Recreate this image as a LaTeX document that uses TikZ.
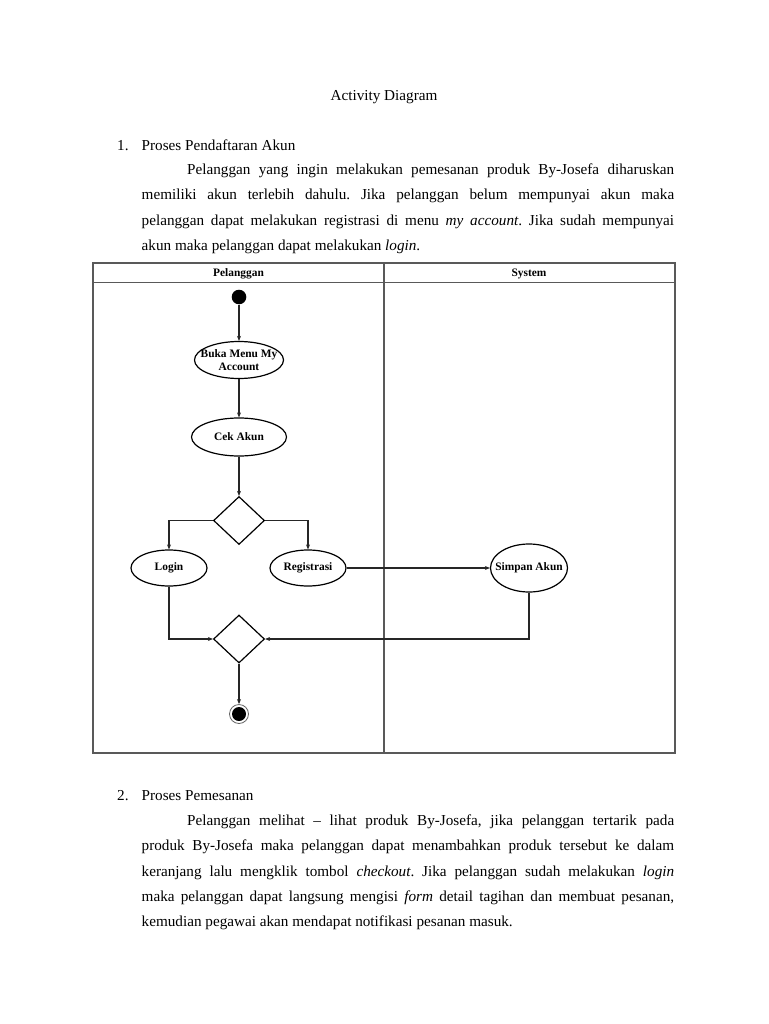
\documentclass[tikz,border=0pt]{standalone}
\usepackage{fontspec}
\setmainfont{Liberation Serif}
\usetikzlibrary{shapes.geometric,arrows.meta}

\begin{document}
\begin{tikzpicture}[x=1pt,y=-1pt,
    body/.style={inner sep=0pt,anchor=base west,font=\fontsize{15.2}{25.4}\selectfont\frenchspacing},
    lane/.style={draw=black!65,line width=1.1pt},
    acttext/.style={font=\bfseries\fontsize{11.4}{12.6}\selectfont,align=center,inner sep=0pt},
    act/.style={draw,ellipse,line width=1.2pt,inner sep=0pt},
    decision/.style={draw,diamond,line width=1.2pt,inner sep=0pt,minimum width=51pt,minimum height=48pt},
    flow/.style={draw=black!85,line width=1.1pt,-{Stealth[length=5pt,width=4pt]}}]
    \useasboundingbox[fill=white] (0,0) rectangle (768,1024);

    \node[body,anchor=base] (title) at (384,101) {Activity Diagram};
    \node[body] (num1) at (117,151) {1.};
    \node[body] (head1) at (141.5,151) {Proses Pendaftaran Akun};
    \node[body] (para1) at (141.5,174.4) {\parbox[t]{532.5pt}{\tolerance=10000\hyphenpenalty=10000
      \hspace*{45.5pt}Pelanggan yang ingin melakukan pemesanan produk By-Josefa diharuskan\linebreak
      memiliki akun terlebih dahulu. Jika pelanggan belum mempunyai akun maka\linebreak
      pelanggan dapat melakukan registrasi di menu \textit{my account}. Jika sudah mempunyai\linebreak
      akun maka pelanggan dapat melakukan \textit{login}.}};

    % swimlanes
    \draw[lane] (93,263) rectangle (675,753);
    \draw[lane] (93,282.5) -- (675,282.5);
    \draw[lane,line width=1.7pt] (384,263) -- (384,753);
    \node[acttext] (pelanggan) at (238.5,273.5) {Pelanggan};
    \node[acttext] (system) at (529,273.5) {System};

    \node[circle,fill,inner sep=0pt,minimum size=14.6pt] (start) at (239,297) {};
    \node[act,minimum width=89pt,minimum height=37pt,label={[acttext]center:{Buka Menu My\\Account}}] (buka) at (239,360) {};
    \node[act,minimum width=95pt,minimum height=38pt,label={[acttext]center:Cek Akun}] (cek) at (239,437) {};
    \node[decision] (dec) at (239,520.5) {};
    \node[act,minimum width=76pt,minimum height=36pt,label={[acttext]center:Login}] (login) at (169,568) {};
    \node[act,minimum width=76pt,minimum height=36pt,label={[acttext]center:Registrasi}] (regis) at (308,568) {};
    \node[act,minimum width=77pt,minimum height=48pt,label={[acttext]center:Simpan Akun}] (simpan) at (529,568) {};
    \node[decision] (merge) at (239,639) {};
    \node[circle,draw=black!60,line width=0.8pt,inner sep=0pt,minimum size=19pt] (stop) at (239,714) {};
    \fill (stop.center) circle (7pt);

    \draw[flow] (start) -- (buka);
    \draw[flow] (buka) -- (cek);
    \draw[flow] (cek) -- (dec);
    \draw[flow] (dec.west) -| (login.north);
    \draw[flow] (dec.east) -| (regis.north);
    \draw[flow] (regis) -- (simpan);
    \draw[flow] (login.south) |- (merge.west);
    \draw[flow] (simpan.south) |- (merge.east);
    \draw[flow] (merge) -- (stop);

    \node[body] (num2) at (117,800) {2.};
    \node[body] (head2) at (141.5,800) {Proses Pemesanan};
    \node[body] (para2) at (141.5,825.3) {\parbox[t]{532.5pt}{\tolerance=10000\hyphenpenalty=10000
      \hspace*{45.5pt}Pelanggan melihat – lihat produk By-Josefa, jika pelanggan tertarik pada\linebreak
      produk By-Josefa maka pelanggan dapat menambahkan produk tersebut ke dalam\linebreak
      keranjang lalu mengklik tombol \textit{checkout}. Jika pelanggan sudah melakukan \textit{login}\linebreak
      maka pelanggan dapat langsung mengisi \textit{form} detail tagihan dan membuat pesanan,\linebreak
      kemudian pegawai akan mendapat notifikasi pesanan masuk.}};
\end{tikzpicture}
\end{document}
